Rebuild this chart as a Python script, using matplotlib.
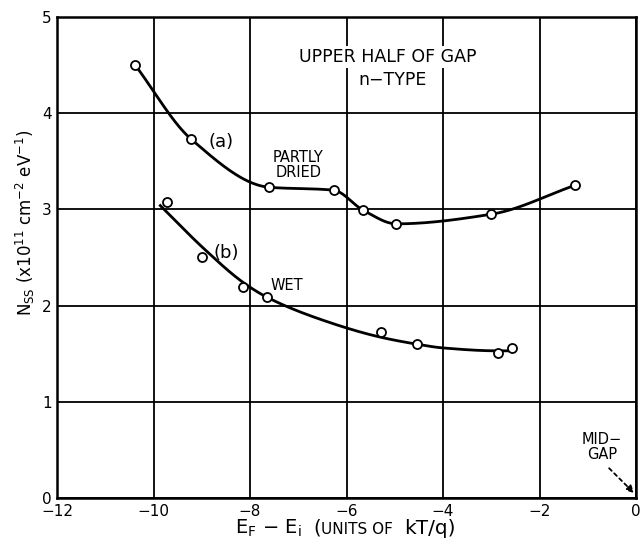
import numpy as np
import matplotlib
matplotlib.use("Agg")
import matplotlib.pyplot as plt

# Interface-state density, partly dried sample (a)
energy_a = [-10.38, -9.22, -7.60, -6.27, -5.65, -4.97, -3.00, -1.27]
nss_a = [4.50, 3.73, 3.23, 3.20, 2.99, 2.85, 2.95, 3.25]

# Interface-state density, wet sample (b)
energy_b = [-9.72, -9.00, -8.14, -7.64, -5.28, -4.55, -2.87, -2.58]
nss_b = [3.08, 2.51, 2.19, 2.09, 1.73, 1.60, 1.51, 1.56]

# Hand-drawn smoothing curve through the wet-sample data
curve_b_energy = [-9.86, -8.93, -8.14, -7.66, -6.50, -5.28, -4.55, -4.00, -2.87, -2.62]
curve_b_nss = [3.04, 2.58, 2.24, 2.09, 1.85, 1.67, 1.60, 1.56, 1.53, 1.53]

x_ticks = [-12, -10, -8, -6, -4, -2, 0]
y_ticks = [0, 1, 2, 3, 4, 5]


def pchip(x, y, xs):
    """Monotone piecewise-cubic (Fritsch-Carlson) interpolation."""
    x = np.asarray(x, float)
    y = np.asarray(y, float)
    h = np.diff(x)
    d = np.diff(y) / h
    n = len(x)
    m = np.zeros(n)
    for i in range(1, n - 1):
        if d[i - 1] * d[i] > 0:
            w1 = 2 * h[i] + h[i - 1]
            w2 = h[i] + 2 * h[i - 1]
            m[i] = (w1 + w2) / (w1 / d[i - 1] + w2 / d[i])
    m[0] = d[0]
    m[-1] = d[-1]
    out = np.empty_like(xs)
    for j, xv in enumerate(xs):
        i = min(max(np.searchsorted(x, xv) - 1, 0), n - 2)
        t = (xv - x[i]) / h[i]
        h00 = 2 * t ** 3 - 3 * t ** 2 + 1
        h10 = t ** 3 - 2 * t ** 2 + t
        h01 = -2 * t ** 3 + 3 * t ** 2
        h11 = t ** 3 - t ** 2
        out[j] = h00 * y[i] + h10 * h[i] * m[i] + h01 * y[i + 1] + h11 * h[i] * m[i + 1]
    return out


fig = plt.figure(figsize=(6.42, 5.45), dpi=100)
ax = fig.add_axes([0.0888, 0.0862, 0.902, 0.8826])

ax.set_xlim(-12, 0)
ax.set_ylim(0, 5)
ax.set_xticks(x_ticks)
ax.set_yticks(y_ticks)
ax.set_xticklabels(["\u2212" + str(-v) if v < 0 else str(v) for v in x_ticks])
ax.set_yticklabels([str(v) for v in y_ticks])
ax.tick_params(axis="x", length=0, labelsize=11, pad=4)
ax.tick_params(axis="y", length=0, labelsize=11, pad=4)
ax.grid(True, color="black", linewidth=1.3, zorder=0)
for s in ax.spines.values():
    s.set_linewidth(1.8)

# curve (a): smooth line through the measured points
xa = np.linspace(energy_a[0], energy_a[-1], 300)
ax.plot(xa, pchip(energy_a, nss_a, xa), color="black", lw=2.0, zorder=3)
ax.plot(energy_a, nss_a, "o", ms=6.5, mfc="white", mec="black", mew=1.3, zorder=4)

# curve (b): smoothing curve plus the measured points
xb = np.linspace(curve_b_energy[0], curve_b_energy[-1], 300)
ax.plot(xb, pchip(curve_b_energy, curve_b_nss, xb), color="black", lw=2.0, zorder=3)
ax.plot(energy_b, nss_b, "o", ms=6.5, mfc="white", mec="black", mew=1.3, zorder=4)

box = dict(facecolor="white", edgecolor="none", pad=1.5)
ax.text(-5.15, 4.58, "UPPER HALF OF GAP", ha="center", va="center",
        fontsize=12.5, bbox=box, zorder=5)
ax.text(-5.05, 4.35, "n\u2212TYPE", ha="center", va="center",
        fontsize=12.5, bbox=box, zorder=5)
ax.text(-8.6, 3.70, "(a)", ha="center", va="center", fontsize=13, zorder=5)
ax.text(-8.49, 2.55, "(b)", ha="center", va="center", fontsize=13, zorder=5)
ax.text(-7.0, 3.46, "PARTLY\nDRIED", ha="center", va="center",
        fontsize=10.5, linespacing=1.05, zorder=5)
ax.text(-7.23, 2.21, "WET", ha="center", va="center", fontsize=10.5, zorder=5)
ax.text(-0.71, 0.53, "MID\u2212\nGAP", ha="center", va="center",
        fontsize=10.5, linespacing=1.05, zorder=5)
ax.annotate("", xy=(0.0, 0.03), xytext=(-0.6, 0.33),
            arrowprops=dict(arrowstyle="-|>", linestyle=(0, (2, 2)),
                            color="black", lw=1.3, mutation_scale=11),
            annotation_clip=False, zorder=5)

# x-axis title, with the unit words set in small capitals
base_y = 1 - 534 / 545
fig.text(235 / 642, base_y, "E$_{\\mathregular{F}}$ \u2212 E$_{\\mathregular{i}}$",
         fontsize=14, va="baseline", ha="left")
fig.text(313 / 642, base_y, "(", fontsize=14, va="baseline", ha="left")
fig.text(321 / 642, base_y, "UNITS OF", fontsize=11, va="baseline", ha="left")
fig.text(404 / 642, base_y, "kT/q)", fontsize=14.5, va="baseline", ha="left")

fig.text(25 / 642, 1 - 223 / 545,
         "N$_{\\mathregular{SS}}$ (x10$^{\\mathregular{11}}$ cm$^{\\mathregular{-2}}$ eV$^{\\mathregular{-1}}$)",
         fontsize=12, rotation=90, ha="center", va="center")

fig.savefig("out.png", dpi=100)
